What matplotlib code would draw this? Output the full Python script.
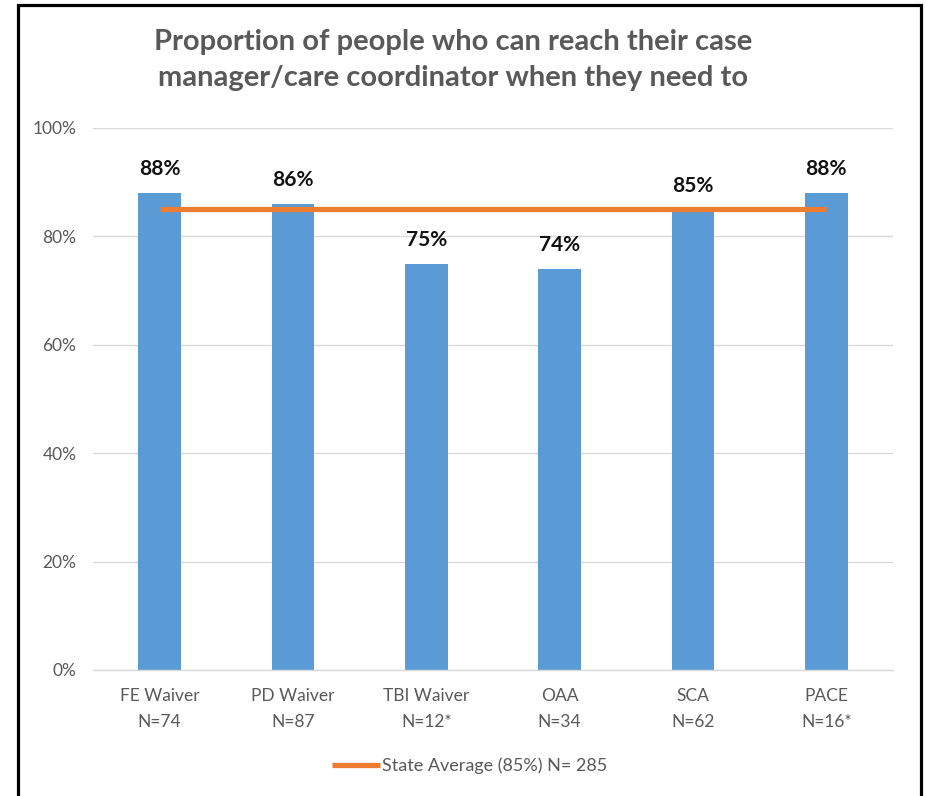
import matplotlib.pyplot as plt
from matplotlib.lines import Line2D
from matplotlib.patches import Rectangle

plt.rcParams['font.family'] = ['Lato', 'DejaVu Sans']

programs = ['FE Waiver', 'PD Waiver', 'TBI Waiver', 'OAA', 'SCA', 'PACE']
sample_sizes = ['N=74', 'N=87', 'N=12*', 'N=34', 'N=62', 'N=16*']
pct_reached = [88, 86, 75, 74, 85, 88]
state_average = 85
state_n = 285

bar_color = '#5B9BD5'
avg_color = '#ED7D31'
text_gray = '#595959'
grid_gray = '#D9D9D9'

fig = plt.figure(figsize=(9.26, 7.96), dpi=100)
ax = fig.add_axes([93 / 926, 1 - 670 / 796, 800 / 926, 542 / 796])

x = list(range(len(programs)))
bars = ax.bar(x, pct_reached, width=0.32, color=bar_color, zorder=2)

# state average drawn as a flat line across the programs
ax.plot([x[0], x[-1]], [state_average] * 2, color=avg_color, lw=3.8,
        solid_capstyle='butt', zorder=3)

for xi, v in zip(x, pct_reached):
    ax.annotate(f'{v}%', (xi, v), xytext=(0, 17), textcoords='offset points',
                ha='center', va='center', fontsize=15, fontweight='bold',
                color='#111111', zorder=4)

ax.set_xlim(-0.5, len(programs) - 0.5)
ax.set_ylim(0, 100)
ax.set_yticks(range(0, 101, 20))
ax.set_yticklabels([f'{t}%' for t in range(0, 101, 20)])
ax.set_xticks(x)
ax.set_xticklabels([f'{p}\n{n}' for p, n in zip(programs, sample_sizes)],
                   linespacing=1.75)
ax.tick_params(axis='both', length=0, labelsize=12.5, labelcolor=text_gray)
ax.tick_params(axis='y', pad=12)
ax.tick_params(axis='x', pad=13)
ax.grid(axis='y', color=grid_gray, lw=1, zorder=0)
ax.set_axisbelow(True)
for side in ['left', 'right', 'top']:
    ax.spines[side].set_visible(False)
ax.spines['bottom'].set_color(grid_gray)
ax.spines['bottom'].set_linewidth(1)

fig.text(453 / 926, 1 - 60 / 796,
         'Proportion of people who can reach their case\nmanager/care coordinator when they need to',
         ha='center', va='center', fontsize=21, fontweight='bold',
         color=text_gray, linespacing=1.5)

handle = Line2D([], [], color=avg_color, lw=3.8, solid_capstyle='butt')
fig.legend(handles=[handle], labels=[f'State Average ({state_average}%) N= {state_n}'],
           loc='center', bbox_to_anchor=(470 / 926, 1 - 766 / 796),
           frameon=False, fontsize=13, labelcolor=text_gray,
           handlelength=2.66, handletextpad=0.1)

# black frame around the chart area
fig.add_artist(Rectangle((18 / 926, -0.05), 903 / 926, 1.05 - 5 / 796,
                         fill=False, lw=2.3, edgecolor='black',
                         transform=fig.transFigure))

fig.savefig('out.png', dpi=100)
